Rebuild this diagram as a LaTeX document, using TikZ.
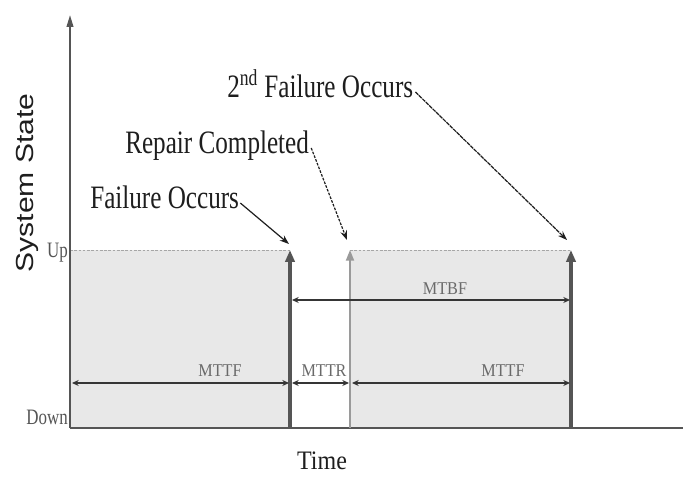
\documentclass[tikz,border=0pt]{standalone}
\usepackage{fontspec}
\setmainfont{Liberation Serif}
\newfontfamily\condserif[FakeStretch=0.77]{Liberation Serif}
\newfontfamily\midserif[FakeStretch=0.9]{Liberation Serif}
\newfontfamily\widesans[FakeStretch=1.22]{Liberation Sans}
\usetikzlibrary{arrows.meta}
\definecolor{boxfill}{HTML}{E8E8E8}
\definecolor{axisgray}{HTML}{555555}
\definecolor{repairgray}{HTML}{9A9A9A}
\definecolor{labelgray}{HTML}{6A6A6A}
\definecolor{ink}{HTML}{1E1E1E}
\tikzset{
  axisline/.style={draw=axisgray, line width=1.4pt},
  upline/.style={draw=gray!70, line width=0.6pt, dash pattern=on 2pt off 1.2pt},
  failline/.style={draw=axisgray, line width=3pt, -{Triangle[length=9pt,width=7pt]}},
  repairline/.style={draw=repairgray, line width=1.4pt, -{Triangle[length=8pt,width=6pt]}},
  dimline/.style={draw=ink!90, line width=1.3pt, {Stealth[length=5pt,width=4.5pt]}-{Stealth[length=5pt,width=4.5pt]}},
  dimlbl/.style={inner sep=0pt, anchor=base, text=labelgray, font=\midserif\fontsize{13.5}{14}\selectfont},
  eventlbl/.style={inner sep=0pt, anchor=base west, text=ink, font=\condserif\fontsize{24.5}{26}\selectfont},
  leader/.style={draw=ink, line width=0.9pt, -{Stealth[length=7pt,width=5pt]}},
  levellbl/.style={inner sep=0pt, anchor=base east, text=axisgray, font=\condserif\fontsize{16.5}{17}\selectfont},
}
\begin{document}
\begin{tikzpicture}[x=0.75pt, y=-0.75pt]
  \fill[white] (0,0) rectangle (683,477);
  \useasboundingbox (0,0) rectangle (683,477);

  % time instants on the axis and at the "up" level
  \coordinate (O) at (70,428);
  \coordinate (ytop) at (70,15);
  \coordinate (xend) at (683,428);
  \coordinate (f1) at (290,428);
  \coordinate (f1t) at (290,250);
  \coordinate (r1) at (350,428);
  \coordinate (r1t) at (350,250);
  \coordinate (f2) at (571,428);
  \coordinate (f2t) at (571,250);
  \coordinate (upL) at (70,250);

  % operating intervals
  \fill[boxfill] (upL) rectangle (f1);
  \fill[boxfill] (r1t) rectangle (f2);
  \draw[upline] (upL) -- (f1t);
  \draw[upline] (r1t) -- (f2t);

  % axes
  \draw[axisline] (O) -- (xend);
  \draw[axisline, -{Triangle[length=9pt,width=5pt]}] (O) -- (ytop);

  % failure and repair events
  \draw[repairline] (r1) -- (r1t);
  \draw[failline] (f1) -- (f1t);
  \draw[failline] (f2) -- (f2t);

  % interval dimensions
  \coordinate (a1) at (72,383);
  \coordinate (a2) at (289,383);
  \coordinate (a3) at (292,383);
  \coordinate (a4) at (349,383);
  \coordinate (a5) at (352,383);
  \coordinate (a6) at (570,383);
  \coordinate (b1) at (292,300);
  \coordinate (b2) at (570,300);
  \draw[dimline] (a1) -- (a2);
  \draw[dimline] (a3) -- (a4);
  \draw[dimline] (a5) -- (a6);
  \draw[dimline] (b1) -- (b2);
  \node[dimlbl] (mttf1) at (220,377) {MTTF};
  \node[dimlbl] (mttr) at (324,377) {MTTR};
  \node[dimlbl] (mttf2) at (503,377) {MTTF};
  \node[dimlbl] (mtbf) at (445,295) {MTBF};

  % level labels
  \node[levellbl] (up) at (68,258) {Up};
  \node[levellbl] (down) at (68,425) {Down};

  % axis titles
  \node[inner sep=0pt, anchor=base, rotate=90, text=ink,
        font=\widesans\fontsize{18.5}{19}\selectfont] (ystate) at (33,183) {System State};
  \node[inner sep=0pt, anchor=base, text=ink,
        font=\midserif\fontsize{20}{21}\selectfont] (time) at (322,470) {Time};

  % event annotations
  \node[eventlbl] (fail1) at (90,209) {Failure Occurs};
  \node[eventlbl] (repair) at (125,154) {Repair Completed};
  \node[eventlbl] (fail2) at (227,98) {2\textsuperscript{nd} Failure Occurs};

  \coordinate (p1) at (289,244);
  \coordinate (p2) at (347,240);
  \coordinate (p3) at (567,240);
  \draw[leader] (fail1.base east) ++(1,-6) -- (p1);
  \draw[leader, dash pattern=on 2pt off 1pt] (repair.base east) ++(2,-6) -- (p2);
  \draw[leader, dash pattern=on 3pt off 0.6pt] (fail2.base east) ++(2,-6) -- (p3);
\end{tikzpicture}
\end{document}
